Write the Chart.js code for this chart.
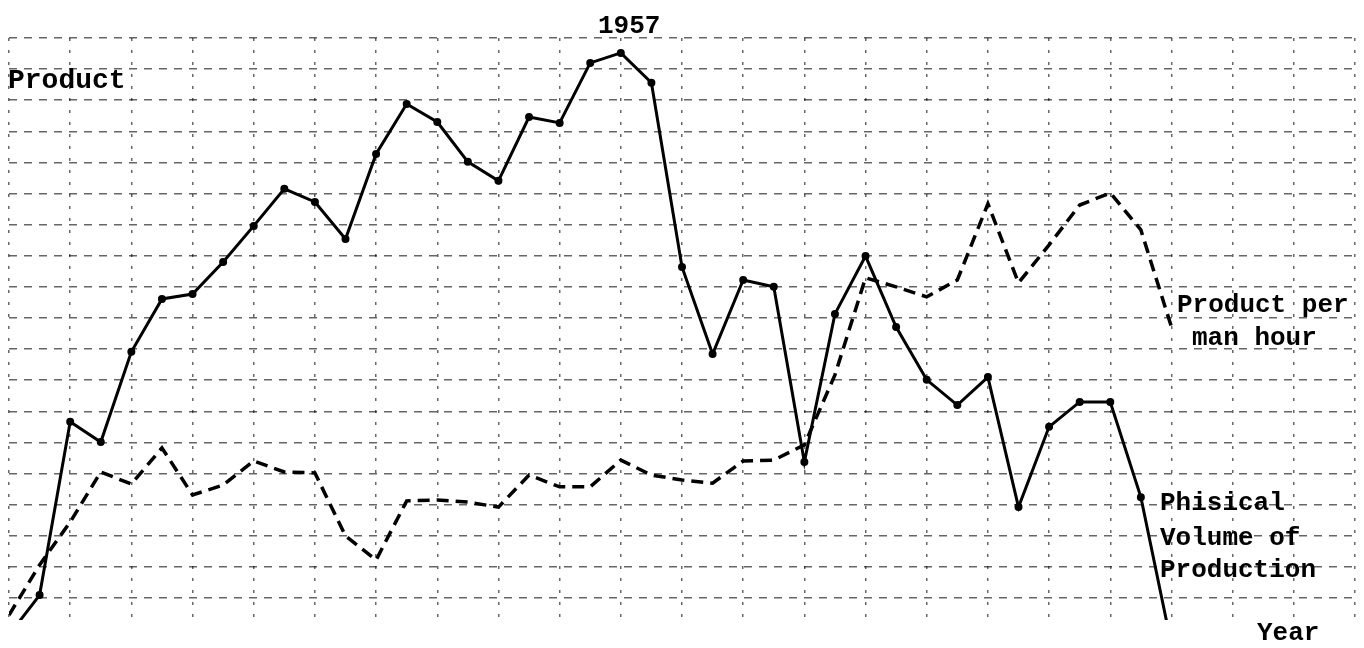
<!DOCTYPE html>
<html>
<head>
<meta charset="utf-8">
<script src="https://cdn.jsdelivr.net/npm/chart.js@4"></script>
<style>
  body { margin: 0; background: #fff; }
  #wrap { width: 1364px; height: 648px; position: relative; }
</style>
</head>
<body>
<div id="wrap"><canvas id="chart"></canvas></div>
<script>
// years on the x axis (1957 = the peak)
const years = [];
for (let y = 1937; y <= 1975; y++) years.push(y);

// values, in grid squares
const physicalVolume = [
  -0.19, 1.09, 6.66, 6.01, 8.91, 10.61, 10.77, 11.80, 12.96, 14.15,
  13.73, 12.54, 15.27, 16.88, 16.30, 15.02, 14.41, 16.46, 16.27, 18.20,
  18.52, 17.56, 11.64, 8.84, 11.22, 11.00, 5.37, 10.13, 11.99, 9.71,
  8.01, 7.20, 8.10, 3.92, 6.50, 7.30, 7.30, 4.24, -0.51
];
const productPerManHour = [
  0.45, 2.06, 3.44, 5.05, 4.66, 5.82, 4.31, 4.63, 5.40, 5.05,
  5.02, 2.99, 2.22, 4.12, 4.15, 4.08, 3.92, 4.95, 4.57, 4.57,
  5.43, 4.95, 4.79, 4.69, 5.40, 5.43, 5.92, 8.17, 11.29, 11.00,
  10.68, 11.22, 13.67, 11.13, 12.35, 13.63, 14.02, 12.83, 9.71
];

const toPoints = (vals) => vals.map((v, i) => ({ x: years[i], y: v }));

// hand written labels on the sheet
const notes = [
  { text: 'Product', x: 8, y: 88, size: 28 },
  { text: '1957', x: 598, y: 33, size: 26 },
  { text: 'Product per', x: 1177, y: 312, size: 26 },
  { text: 'man hour', x: 1192, y: 345, size: 26 },
  { text: 'Phisical', x: 1160, y: 510, size: 26 },
  { text: 'Volume of', x: 1160, y: 545, size: 26 },
  { text: 'Production', x: 1160, y: 577, size: 26 },
  { text: 'Year', x: 1257, y: 640, size: 26 }
];

const notesPlugin = {
  id: 'notes',
  afterDraw(chart) {
    const ctx = chart.ctx;
    ctx.save();
    ctx.fillStyle = '#000';
    ctx.textBaseline = 'alphabetic';
    notes.forEach(n => {
      ctx.font = 'bold ' + n.size + 'px "Liberation Mono", "DejaVu Sans Mono", monospace';
      ctx.fillText(n.text, n.x, n.y);
    });
    ctx.restore();
  }
};

const gridColor = (c) => (c.tick && Math.abs(c.tick.value % 1) > 0.01 ? 'rgba(0,0,0,0)' : 'rgba(0,0,0,0.6)');

new Chart(document.getElementById('chart'), {
  type: 'line',
  data: {
    datasets: [
      {
        label: 'Phisical Volume of Production',
        data: toPoints(physicalVolume),
        borderColor: '#000',
        backgroundColor: '#000',
        borderWidth: 3,
        pointRadius: 2.5,
        pointBackgroundColor: '#000',
        tension: 0
      },
      {
        label: 'Product per man hour',
        data: toPoints(productPerManHour),
        borderColor: '#000',
        borderWidth: 3.5,
        borderDash: [12, 7],
        pointRadius: 0,
        tension: 0
      }
    ]
  },
  options: {
    responsive: true,
    maintainAspectRatio: false,
    animation: false,
    layout: { padding: { left: 9, right: 9, top: 38, bottom: 28 } },
    plugins: {
      legend: { display: false },
      tooltip: { enabled: false }
    },
    scales: {
      x: {
        type: 'linear',
        min: 1937,
        max: 1981,
        ticks: { display: false, stepSize: 2 },
        border: { display: false, dash: [3, 9] },
        grid: { color: 'rgba(0,0,0,0.6)', lineWidth: 1.5, drawTicks: false }
      },
      y: {
        min: 0.29,
        max: 19,
        ticks: { display: false, stepSize: 1 },
        border: { display: false, dash: [8, 7] },
        grid: { color: gridColor, lineWidth: 1.5, drawTicks: false }
      }
    }
  },
  plugins: [notesPlugin]
});
</script>
</body>
</html>
